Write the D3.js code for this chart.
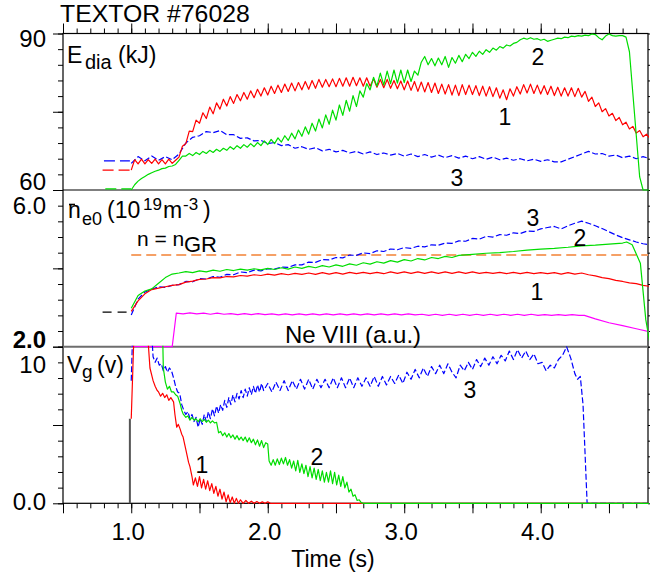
<!DOCTYPE html>
<html>
<head>
<meta charset="utf-8">
<script src="https://cdnjs.cloudflare.com/ajax/libs/d3/7.8.5/d3.min.js"></script>
<style>
  body { margin: 0; background: #fff; }
  svg text { font-family: "Liberation Sans", Arial, sans-serif; fill: #000; }
</style>
</head>
<body>
<svg></svg>
<script>
// ---- data ----
var timeLabels = [1.0, 2.0, 3.0, 4.0];

// E_dia (kJ): shots 1 and 2 sampled every 0.025 s from 1.0 s, shot 3 every 0.05 s
var edia1 = [63.8,65.8,65.0,65.9,65.0,65.8,65.1,65.9,65.0,65.8,
  65.0,65.9,65.1,65.7,66.3,68.4,68.9,71.3,71.2,73.4,
  72.8,74.8,73.7,75.9,74.6,76.7,75.5,77.4,76.1,77.9,
  76.6,78.3,77.1,78.7,77.4,79.0,77.7,79.3,78.0,79.6,
  78.2,79.9,78.5,80.1,78.7,80.3,78.9,80.5,79.0,80.6,
  79.2,80.8,79.3,81.0,79.5,81.2,79.7,81.2,79.8,81.3,
  79.8,81.4,79.9,81.5,79.9,81.6,80.0,81.5,79.9,81.5,
  79.9,81.3,79.7,81.2,79.6,81.2,79.5,81.0,79.4,80.9,
  79.2,80.9,79.1,80.8,78.9,80.7,78.8,80.6,78.7,80.5,
  78.5,80.3,78.4,80.2,78.2,80.1,78.1,80.2,78.3,80.1,
  78.3,80.0,78.1,79.9,78.0,79.8,77.9,79.6,77.6,79.2,
  77.3,79.4,78.0,79.8,78.4,80.2,78.6,80.3,78.5,80.1,
  78.4,80.0,78.3,79.9,78.1,79.7,78.0,79.6,78.0,79.6,
  77.9,79.5,77.8,78.9,77.0,77.8,76.0,76.7,75.0,75.6,
  74.2,74.7,73.3,73.9,72.5,73.0,71.7,72.2,70.9,71.4,
  70.2,70.7,69.9];
var edia2 = [60.0,61.0,61.7,62.2,62.6,63.0,63.3,63.6,63.8,64.1,
  64.2,64.5,64.6,64.9,65.7,66.5,66.5,67.0,66.6,67.2,
  66.8,67.4,67.0,67.6,67.2,67.8,67.4,68.0,67.6,68.3,
  67.8,68.5,68.0,68.7,68.2,68.9,68.3,69.1,68.5,69.4,
  68.7,69.7,68.9,70.0,69.2,70.4,69.5,70.9,69.8,71.5,
  70.3,72.1,70.7,72.8,71.3,73.6,71.9,74.4,72.6,75.3,
  73.4,76.3,74.3,77.2,75.1,78.1,76.0,79.0,77.8,80.4,
  79.2,81.6,79.9,82.4,80.1,82.8,80.4,83.0,80.5,83.0,
  80.6,83.0,80.8,82.8,82.0,84.5,85.6,84.0,85.2,83.8,
  85.3,84.0,85.6,83.5,85.4,84.3,85.8,84.6,86.0,85.2,
  86.4,85.6,86.6,86.0,86.9,86.4,87.2,86.8,87.5,87.2,
  87.8,87.6,88.1,88.3,88.8,89.1,88.9,89.2,88.9,89.0,
  88.7,88.9,88.5,88.7,88.9,89.1,89.0,89.3,89.2,89.5,
  89.4,89.6,89.5,89.7,89.6,89.9,89.8,89.2,88.8,89.5,
  89.9,89.6,89.5,89.6,89.6,89.3,86.5,78.5,70.5,62.5,
  60.0,60.0,60.0];
var edia3 = [65.1,66.4,65.6,66.5,65.7,66.4,65.8,66.9,69.0,70.1,
  70.4,71.2,71.0,71.4,70.6,70.6,69.9,70.0,69.4,69.5,
  68.9,69.1,68.5,68.7,68.0,68.3,67.8,68.1,67.5,67.8,
  67.3,67.6,67.1,67.4,66.9,67.3,66.8,67.1,66.7,67.0,
  66.5,66.9,66.4,66.8,66.3,66.7,66.2,66.6,66.1,66.5,
  66.0,66.4,65.9,66.3,65.8,66.1,65.7,66.0,65.6,65.9,
  65.5,65.8,65.4,65.4,65.9,66.4,66.9,67.4,66.9,67.0,
  66.5,66.7,66.2,66.5,66.0,66.4,66.0];
var ediaPre1 = [[0.79, 63.8], [0.99, 63.8]];
var ediaPre2 = [[0.81, 60.2], [1.0, 60.2]];
var ediaPre3 = [[0.8, 65.6], [0.99, 65.6]];

// central line density (10^19 m^-3)
var ne1 = [[1.00,3.00],[1.05,3.30],[1.10,3.50],[1.15,3.62],[1.20,3.66],[1.25,3.70],[1.30,3.74],[1.35,3.76],
  [1.40,3.83],[1.45,3.86],[1.50,3.91],[1.55,3.92],[1.60,3.96],[1.65,3.95],[1.70,3.99],[1.75,3.98],
  [1.80,4.02],[1.85,4.00],[1.90,4.04],[1.95,4.02],[2.00,4.06],[2.05,4.03],[2.10,4.07],[2.15,4.04],
  [2.20,4.08],[2.25,4.05],[2.30,4.09],[2.35,4.05],[2.40,4.10],[2.45,4.06],[2.50,4.10],[2.55,4.06],
  [2.60,4.11],[2.65,4.07],[2.70,4.11],[2.75,4.07],[2.80,4.11],[2.85,4.07],[2.90,4.12],[2.95,4.08],
  [3.00,4.12],[3.05,4.08],[3.10,4.12],[3.15,4.08],[3.20,4.12],[3.25,4.08],[3.30,4.12],[3.35,4.08],
  [3.40,4.12],[3.45,4.08],[3.50,4.12],[3.55,4.08],[3.60,4.11],[3.65,4.08],[3.70,4.11],[3.75,4.07],
  [3.80,4.11],[3.85,4.07],[3.90,4.11],[3.95,4.07],[4.00,4.10],[4.05,4.07],[4.10,4.10],[4.15,4.06],
  [4.20,4.10],[4.25,4.06],[4.30,4.09],[4.35,4.04],[4.40,4.01],[4.45,3.96],[4.50,3.93],[4.55,3.88],
  [4.60,3.85],[4.65,3.81],[4.70,3.79],[4.75,3.74],[4.80,3.71]];
var ne2 = [[1.00,3.09],[1.05,3.45],[1.10,3.58],[1.15,3.64],[1.20,3.80],[1.25,3.96],[1.30,4.06],[1.35,4.09],
  [1.40,4.13],[1.45,4.10],[1.50,4.15],[1.55,4.12],[1.60,4.17],[1.65,4.14],[1.70,4.19],[1.75,4.16],
  [1.80,4.20],[1.85,4.17],[1.90,4.21],[1.95,4.18],[2.00,4.22],[2.05,4.19],[2.10,4.24],[2.15,4.20],
  [2.20,4.26],[2.25,4.22],[2.30,4.28],[2.35,4.24],[2.40,4.30],[2.45,4.26],[2.50,4.32],[2.55,4.28],
  [2.60,4.35],[2.65,4.31],[2.70,4.38],[2.75,4.34],[2.80,4.41],[2.85,4.37],[2.90,4.44],[2.95,4.40],
  [3.00,4.47],[3.05,4.43],[3.10,4.50],[3.15,4.46],[3.20,4.53],[3.25,4.50],[3.30,4.56],[3.35,4.53],
  [3.40,4.59],[3.50,4.62],[3.60,4.65],[3.70,4.67],[3.80,4.70],[3.90,4.74],[4.00,4.77],[4.10,4.79],
  [4.20,4.82],[4.30,4.86],[4.40,4.88],[4.50,4.91],[4.60,4.94],[4.63,4.97],[4.67,4.89],[4.73,4.37],
  [4.77,2.76],[4.80,2.10]];
var ne3 = [[1.00,2.90],[1.05,3.35],[1.10,3.55],[1.15,3.63],[1.20,3.70],[1.25,3.68],[1.30,3.74],[1.35,3.76],
  [1.40,3.85],[1.45,3.84],[1.50,3.93],[1.55,3.92],[1.60,3.99],[1.65,3.97],[1.70,4.05],[1.75,4.04],
  [1.80,4.12],[1.85,4.10],[1.90,4.17],[1.95,4.15],[2.00,4.21],[2.05,4.20],[2.10,4.26],[2.15,4.25],
  [2.20,4.32],[2.25,4.32],[2.30,4.40],[2.35,4.39],[2.40,4.47],[2.45,4.46],[2.50,4.53],[2.55,4.52],
  [2.60,4.60],[2.65,4.59],[2.70,4.66],[2.75,4.64],[2.80,4.72],[2.85,4.70],[2.90,4.77],[2.95,4.75],
  [3.00,4.81],[3.05,4.79],[3.10,4.85],[3.15,4.83],[3.20,4.89],[3.25,4.88],[3.30,4.94],[3.35,4.93],
  [3.40,5.00],[3.45,4.99],[3.50,5.07],[3.55,5.05],[3.60,5.13],[3.65,5.11],[3.70,5.18],[3.75,5.16],
  [3.80,5.23],[3.85,5.21],[3.90,5.28],[3.95,5.27],[4.00,5.34],[4.05,5.38],[4.10,5.41],[4.15,5.34],
  [4.20,5.43],[4.25,5.50],[4.30,5.56],[4.35,5.50],[4.40,5.43],[4.45,5.35],[4.50,5.26],[4.55,5.17],
  [4.60,5.09],[4.65,5.03],[4.70,4.97],[4.75,4.92],[4.80,4.89]];
var nePre = [[0.79, 2.98], [0.99, 2.98]];
var nGreenwald = [[1.0, 4.60], [4.786, 4.60]];
var neVIII = [[1.00,2.00],[1.30,2.00],[1.33,2.95],[1.38,2.93],[1.43,2.96],[1.48,2.93],[1.53,2.95],[1.58,2.92],
  [1.63,2.95],[1.68,2.92],[1.73,2.94],[1.78,2.91],[1.83,2.94],[1.88,2.91],[1.93,2.94],[1.98,2.91],
  [2.03,2.93],[2.08,2.90],[2.13,2.93],[2.18,2.90],[2.23,2.93],[2.28,2.90],[2.33,2.93],[2.38,2.90],
  [2.43,2.93],[2.48,2.90],[2.53,2.93],[2.58,2.90],[2.63,2.93],[2.68,2.90],[2.73,2.93],[2.78,2.90],
  [2.83,2.93],[2.88,2.90],[2.93,2.93],[2.98,2.90],[3.03,2.93],[3.08,2.90],[3.13,2.92],[3.18,2.89],
  [3.23,2.92],[3.28,2.89],[3.33,2.92],[3.38,2.89],[3.43,2.92],[3.48,2.89],[3.53,2.92],[3.58,2.89],
  [3.63,2.92],[3.68,2.89],[3.73,2.92],[3.78,2.89],[3.83,2.92],[3.88,2.89],[3.93,2.92],[3.98,2.89],
  [4.03,2.91],[4.08,2.89],[4.13,2.91],[4.18,2.89],[4.23,2.91],[4.28,2.89],[4.32,2.89],[4.40,2.79],
  [4.50,2.68],[4.60,2.60],[4.70,2.51],[4.80,2.42]];

// gas valve voltage V_g (V)
var vg0 = [[0.99, 0], [0.99, 6.0]];
var vg1 = [[1.00,6.0],[1.02,12],[1.12,12],[1.137,9.6],[1.16,8.7],[1.175,8.3],[1.19,8.0],[1.20,7.9],
  [1.215,7.6],[1.23,7.8],[1.245,7.5],[1.26,7.7],[1.275,7.3],[1.29,7.5],[1.31,7.2],[1.32,6.3],
  [1.333,5.4],[1.345,5.6],[1.357,5.3],[1.37,4.9],[1.38,4.7],[1.40,3.8],[1.42,2.9],[1.43,2.6],
  [1.445,1.9],[1.455,1.3],[1.47,1.8],[1.485,1.2],[1.50,1.9],[1.515,1.1],[1.53,1.7],[1.545,1.0],
  [1.56,1.6],[1.575,0.9],[1.59,1.4],[1.605,0.7],[1.62,1.2],[1.635,0.5],[1.65,1.0],[1.665,0.3],
  [1.68,0.8],[1.695,0.1],[1.71,0.6],[1.725,0.05],[1.74,0.45],[1.755,0.0],[1.77,0.35],[1.785,0.0],
  [1.80,0.25],[1.82,0.0],[1.84,0.2],[1.86,0.0],[1.88,0.15],[1.90,0.0],[1.92,0.12],[1.94,0.0],
  [1.96,0.1],[1.98,0.0],[2.00,0.1],[2.02,0.0],[4.80,0.0]];
var vg2 = [[1.00,12],[1.23,12],[1.235,9.6],[1.25,8.6],[1.265,8.1],[1.28,8.3],[1.295,7.9],[1.31,7.9],
  [1.325,7.7],[1.34,7.6],[1.357,7.1],[1.37,6.6],[1.38,6.35],[1.40,6.1],[1.415,6.2],[1.43,5.9],
  [1.445,6.1],[1.46,5.9],[1.475,6.0],[1.49,5.8],[1.505,6.0],[1.52,5.8],[1.535,5.95],[1.55,5.75],
  [1.565,5.9],[1.58,5.7],[1.595,5.85],[1.61,5.7],[1.625,5.75],[1.64,5.0],[1.655,5.1],[1.67,4.8],
  [1.685,5.0],[1.70,4.7],[1.715,4.95],[1.73,4.65],[1.745,4.85],[1.76,4.55],[1.775,4.8],[1.79,4.5],
  [1.805,4.7],[1.82,4.45],[1.835,4.7],[1.85,4.35],[1.865,4.65],[1.88,4.3],[1.895,4.55],[1.91,4.15],
  [1.925,4.5],[1.94,4.05],[1.955,4.45],[1.97,3.95],[1.985,4.3],[2.00,4.2],[2.01,3.0],[2.025,2.7],
  [2.04,3.1],[2.055,2.7],[2.07,3.15],[2.085,2.75],[2.10,3.2],[2.115,2.8],[2.13,3.25],[2.145,2.7],
  [2.16,3.1],[2.175,2.5],[2.19,3.0],[2.205,2.3],[2.22,3.05],[2.235,2.2],[2.25,2.8],[2.265,2.1],
  [2.28,2.7],[2.295,1.9],[2.31,2.6],[2.325,1.8],[2.34,2.5],[2.355,1.7],[2.37,2.4],[2.385,1.6],
  [2.40,2.3],[2.415,1.5],[2.43,2.2],[2.445,1.5],[2.46,2.3],[2.475,1.4],[2.49,2.2],[2.505,1.3],
  [2.52,2.0],[2.535,1.2],[2.55,1.9],[2.565,1.1],[2.58,1.5],[2.595,0.8],[2.61,1.0],[2.625,0.5],
  [2.64,0.6],[2.655,0.2],[2.67,0.25],[2.685,0.05],[2.70,0.0],[4.80,0.0]];
var vg3 = [[1.00,8.7],[1.01,12],[1.15,12],[1.16,10.4],[1.175,10.0],[1.19,10.3],[1.205,9.8],[1.22,9.9],
  [1.235,9.4],[1.25,9.7],[1.265,9.3],[1.28,9.6],[1.295,9.4],[1.31,8.9],[1.325,8.3],[1.34,7.9],
  [1.355,7.8],[1.37,7.0],[1.385,6.6],[1.40,6.3],[1.415,6.5],[1.43,6.0],[1.445,6.3],[1.46,5.8],
  [1.475,6.1],[1.49,5.4],[1.505,6.0],[1.52,5.6],[1.535,6.3],[1.55,5.8],[1.565,6.5],[1.58,6.0],
  [1.595,6.7],[1.61,6.2],[1.625,6.9],[1.64,6.4],[1.655,7.0],[1.67,6.6],[1.685,7.3],[1.70,6.8],
  [1.715,7.5],[1.73,7.0],[1.745,7.7],[1.76,7.2],[1.775,7.8],[1.79,7.4],[1.805,8.0],[1.82,7.5],
  [1.835,8.1],[1.85,7.6],[1.865,8.2],[1.88,7.7],[1.895,8.3],[1.91,7.8],[1.925,8.4],[1.94,7.9],
  [1.955,8.5],[1.97,8.0],[2.00,8.5],[2.03,7.9],[2.06,8.6],[2.09,8.0],[2.12,8.7],[2.15,8.0],
  [2.18,8.7],[2.21,8.1],[2.24,8.8],[2.27,8.1],[2.30,8.8],[2.33,8.1],[2.36,8.8],[2.39,8.2],
  [2.42,8.8],[2.45,8.2],[2.48,8.9],[2.51,8.2],[2.54,8.9],[2.57,8.2],[2.60,8.9],[2.63,8.2],
  [2.66,8.9],[2.69,8.3],[2.72,8.9],[2.75,8.3],[2.78,9.0],[2.81,8.3],[2.84,9.0],[2.87,8.4],
  [2.90,9.0],[2.93,8.5],[2.96,9.1],[2.99,8.5],[3.02,9.3],[3.05,8.8],[3.08,9.5],[3.11,8.9],
  [3.14,9.6],[3.17,9.0],[3.20,9.7],[3.23,9.2],[3.26,9.8],[3.29,9.2],[3.32,9.9],[3.35,9.3],
  [3.38,8.9],[3.41,9.8],[3.44,9.4],[3.47,10.0],[3.50,9.5],[3.53,10.2],[3.56,9.7],[3.59,10.3],
  [3.62,9.8],[3.65,10.4],[3.68,9.9],[3.71,10.5],[3.74,10.1],[3.77,10.8],[3.80,10.2],[3.83,10.9],
  [3.86,10.3],[3.89,10.8],[3.92,10.2],[3.95,10.6],[3.98,9.9],[4.01,10.0],[4.04,9.4],[4.07,9.8],
  [4.10,9.6],[4.13,10.2],[4.16,10.5],[4.19,11.1],[4.22,10.3],[4.25,9.2],[4.27,8.8],[4.29,9.0],
  [4.31,7.0],[4.34,0.0],[4.80,0.0]];

// ---- layout ----
var width = 650, height = 576;
var svg = d3.select('svg').attr('width', width).attr('height', height);

var x = d3.scaleLinear().domain([0.5, 4.786]).range([63, 648]);
var panels = [
  { y: d3.scaleLinear().domain([60, 90]).range([190, 33.5]) },
  { y: d3.scaleLinear().domain([2.0, 6.444]).range([346.7, 190]) },
  { y: d3.scaleLinear().domain([0, 11.11]).range([503.3, 346.7]) }
];

function grid(t0, dt, vals) { return vals.map((v, i) => [t0 + i * dt, v]); }

// clip each panel
var defs = svg.append('defs');
panels.forEach(function(p, i) {
  var r = p.y.range();
  defs.append('clipPath').attr('id', 'clip' + i)
    .append('rect')
    .attr('x', x.range()[0]).attr('y', r[1] - 1)
    .attr('width', x.range()[1] - x.range()[0] + 1)
    .attr('height', r[0] - r[1] + 2);
});

// ---- axes ----
var minorX = d3.range(0.5, 4.79, 0.1);
var majorX = d3.range(0.5, 4.79, 0.5);

function xAxis(gen, y, size) {
  var g = svg.append('g').attr('transform', `translate(0,${y})`)
    .call(gen(x).tickValues(size > 6 ? majorX : minorX).tickSize(size).tickSizeOuter(0).tickFormat(''));
  g.select('.domain').remove();
}
xAxis(d3.axisTop, 33.5, 5);
xAxis(d3.axisTop, 33.5, 10);
xAxis(d3.axisBottom, 503.3, 5);
xAxis(d3.axisBottom, 503.3, 10);

panels.forEach(function(p) {
  var d = p.y.domain();
  var ticks = d3.range(11).map(i => d[0] + i * (d[1] - d[0]) / 10);
  [[ticks, 5], [[ticks[0], ticks[5], ticks[10]], 10]].forEach(function(t) {
    var g = svg.append('g').attr('transform', 'translate(63,0)')
      .call(d3.axisLeft(p.y).tickValues(t[0]).tickSize(t[1]).tickSizeOuter(0).tickFormat(''));
    g.select('.domain').remove();
  });
  var gr = svg.append('g').attr('transform', 'translate(648,0)')
    .call(d3.axisRight(p.y).tickValues(ticks).tickSize(3).tickSizeOuter(0).tickFormat(''));
  gr.select('.domain').remove();
});

// frame
svg.append('rect').attr('x', 63).attr('y', 33.5).attr('width', 585).attr('height', 469.8)
  .attr('fill', 'none').attr('stroke', '#000').attr('stroke-width', 1.2);
svg.append('line').attr('x1', 63).attr('x2', 648).attr('y1', 190).attr('y2', 190)
  .attr('stroke', '#000').attr('stroke-width', 1.2);
svg.append('line').attr('x1', 63).attr('x2', 648).attr('y1', 346.7).attr('y2', 346.7)
  .attr('stroke', '#6e6e6e').attr('stroke-width', 2);

panels.forEach(function(p, i) {
  p.g = svg.append('g').attr('clip-path', 'url(#clip' + i + ')');
});

// y tick labels
var yLabels = [
  [0, 90, '90', 13], [0, 60, '60', 0],
  [1, 6.0, '6.0', 8], [1, 2.0, '2.0', 1],
  [2, 10, '10', 11], [2, 0, '0.0', 7]
];
yLabels.forEach(function(l) {
  svg.append('text')
    .attr('x', 46).attr('y', panels[l[0]].y(l[1]) + l[3])
    .attr('text-anchor', 'end')
    .style('font-size', '24px')
    .style('font-weight', l[2] == '2.0' ? 'bold' : 'normal')
    .text(l[2]);
});

// x tick labels
svg.selectAll('.xlab').data(timeLabels).enter()
  .append('text')
  .attr('x', d => x(d) - 3).attr('y', 540)
  .attr('text-anchor', 'middle')
  .style('font-size', '24px')
  .text(d => d.toFixed(1));

svg.append('text').attr('x', 333).attr('y', 567).attr('text-anchor', 'middle')
  .style('font-size', '23px').text('Time (s)');

// ---- traces ----
function trace(p, pts, color, dash, w) {
  var line = d3.line().x(d => x(d[0])).y(d => p.y(d[1]));
  p.g.append('path')
    .attr('d', line(pts))
    .attr('fill', 'none')
    .attr('stroke', color)
    .attr('stroke-width', w || 1.2)
    .attr('stroke-dasharray', dash || null)
    .attr('stroke-linejoin', 'round');
}

var pTop = panels[0], pMid = panels[1], pBot = panels[2];

trace(pTop, ediaPre3, '#0000ff', '11,5');
trace(pTop, ediaPre1, '#ff0000', '11,5');
trace(pTop, ediaPre2, '#00dd00', '11,5');
trace(pTop, grid(1.0, 0.05, edia3), '#0000ff', '6,2.5');
trace(pTop, grid(1.0, 0.025, edia1), '#ff0000');
trace(pTop, grid(1.0, 0.025, edia2), '#00dd00');

trace(pMid, nePre, '#000', '9,6');
trace(pMid, nGreenwald, '#f5a066', '10,5', 2);
trace(pMid, neVIII, '#ff00ff');
trace(pMid, ne3, '#0000ff', '6,2.5');
trace(pMid, ne1, '#ff0000');
trace(pMid, ne2, '#00dd00');

trace(pBot, vg0, '#555', null, 2);
trace(pBot, vg3, '#0000ff', '6,2.5');
trace(pBot, vg1, '#ff0000');
trace(pBot, vg2, '#00dd00');

// ---- annotations ----
svg.append('text').attr('x', 60).attr('y', 22).style('font-size', '24.8px').text('TEXTOR #76028');

var t1 = svg.append('text').attr('y', 63).style('font-size', '23px');
t1.append('tspan').attr('x', 67).text('E');
t1.append('tspan').attr('x', 85).attr('y', 68.5).style('font-size', '20px').text('dia');
t1.append('tspan').attr('x', 118).attr('y', 63).text('(kJ)');

var t2 = svg.append('text').attr('y', 218).style('font-size', '23px');
t2.append('tspan').attr('x', 68).text('n');
t2.append('tspan').attr('x', 82).attr('y', 225).style('font-size', '18px').text('e0');
t2.append('tspan').attr('x', 107).attr('y', 218).text('(10');
t2.append('tspan').attr('x', 143).attr('y', 210).style('font-size', '17px').text('19');
t2.append('tspan').attr('x', 163).attr('y', 218).text('m');
t2.append('tspan').attr('x', 183).attr('y', 210).style('font-size', '17px').text('-3');
t2.append('tspan').attr('x', 203).attr('y', 218).text(')');
svg.append('line').attr('x1', 69).attr('x2', 75).attr('y1', 204.5).attr('y2', 204.5)
  .attr('stroke', '#000').attr('stroke-width', 1.6);

var t3 = svg.append('text').attr('y', 246).style('font-size', '21px');
t3.append('tspan').attr('x', 137).text('n = n');
t3.append('tspan').attr('x', 184).attr('y', 252).style('font-size', '22px').text('GR');

svg.append('text').attr('x', 285).attr('y', 343).style('font-size', '24px').text('Ne VIII (a.u.)');

var t4 = svg.append('text').attr('y', 373).style('font-size', '23px');
t4.append('tspan').attr('x', 67).text('V');
t4.append('tspan').attr('x', 82).attr('y', 378).style('font-size', '19px').text('g');
t4.append('tspan').attr('x', 97).attr('y', 373).text('(v)');

var shotLabels = [
  ['2', 538, 65], ['1', 505, 125], ['3', 457, 186],
  ['3', 533, 226], ['2', 580, 246], ['1', 537, 300],
  ['1', 202, 473], ['2', 317, 465], ['3', 470, 398]
];
svg.selectAll('.shot').data(shotLabels).enter()
  .append('text')
  .attr('x', d => d[1]).attr('y', d => d[2])
  .attr('text-anchor', 'middle')
  .style('font-size', '23px')
  .text(d => d[0]);
</script>
</body>
</html>
